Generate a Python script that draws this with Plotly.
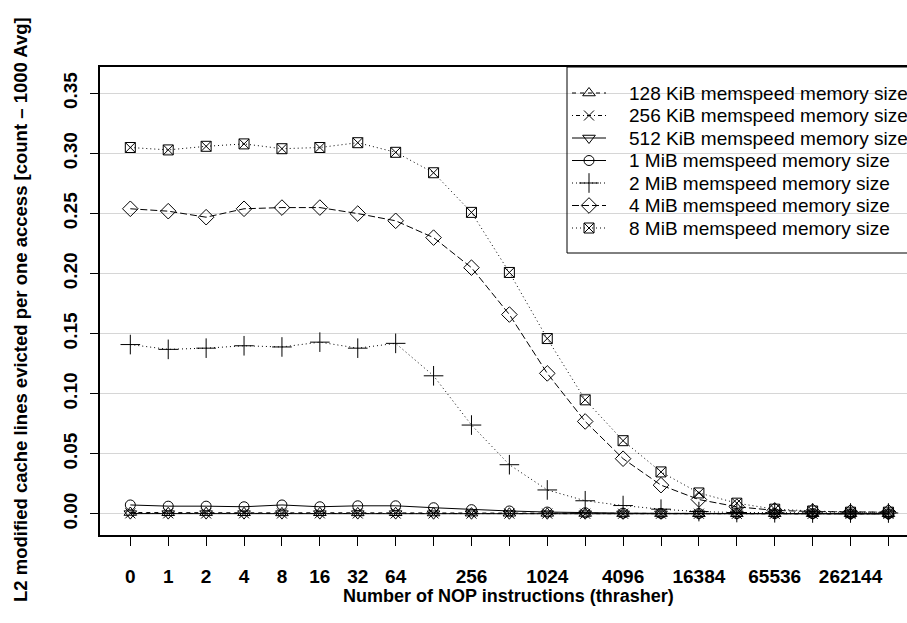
import plotly.graph_objects as go

# NOP instruction counts executed by the thrasher between accesses
nop_counts = [0, 1, 2, 4, 8, 16, 32, 64, 128, 256, 512, 1024, 2048, 4096,
              8192, 16384, 32768, 65536, 131072, 262144, 524288]
# counts that get a printed tick label (the others only get a tick mark)
labelled_counts = [0, 1, 2, 4, 8, 16, 32, 64, 256, 1024, 4096, 16384, 65536, 262144]

series_names = [
    "128 KiB memspeed memory size",
    "256 KiB memspeed memory size",
    "512 KiB memspeed memory size",
    "1 MiB memspeed memory size",
    "2 MiB memspeed memory size",
    "4 MiB memspeed memory size",
    "8 MiB memspeed memory size",
]

# L2 modified cache lines evicted per access, one list per memory size
evict_128k = [0.0012, 0.0010, 0.0011, 0.0010, 0.0009, 0.0010, 0.0009, 0.0010, 0.0008, 0.0007, 0.0006,
              0.0005, 0.0004, 0.0003, 0.0003, 0.0002, 0.0002, 0.0002, 0.0002, 0.0002, 0.0002]
evict_256k = [0.0005, 0.0005, 0.0004, 0.0005, 0.0004, 0.0005, 0.0004, 0.0004, 0.0004, 0.0003, 0.0003,
              0.0003, 0.0002, 0.0002, 0.0002, 0.0002, 0.0001, 0.0001, 0.0001, 0.0001, 0.0001]
evict_512k = [0.0003, 0.0003, 0.0003, 0.0003, 0.0003, 0.0003, 0.0003, 0.0003, 0.0002, 0.0002, 0.0002,
              0.0002, 0.0002, 0.0001, 0.0001, 0.0001, 0.0001, 0.0001, 0.0001, 0.0001, 0.0001]
evict_1m = [0.0075, 0.0065, 0.0065, 0.0060, 0.0075, 0.0060, 0.0068, 0.0068, 0.0052, 0.0036, 0.0025,
            0.0016, 0.0010, 0.0007, 0.0005, 0.0004, 0.0003, 0.0003, 0.0003, 0.0002, 0.0002]
evict_2m = [0.141, 0.137, 0.138, 0.140, 0.139, 0.143, 0.138, 0.142, 0.115, 0.074, 0.041,
            0.020, 0.011, 0.007, 0.004, 0.002, 0.0012, 0.0010, 0.0008, 0.0008, 0.0008]
evict_4m = [0.254, 0.252, 0.247, 0.254, 0.255, 0.255, 0.250, 0.244, 0.230, 0.205, 0.166,
            0.117, 0.077, 0.046, 0.024, 0.012, 0.006, 0.003, 0.002, 0.0015, 0.0015]
evict_8m = [0.305, 0.303, 0.306, 0.308, 0.304, 0.305, 0.309, 0.301, 0.284, 0.251, 0.201,
            0.146, 0.095, 0.061, 0.035, 0.0175, 0.009, 0.004, 0.0025, 0.0015, 0.0015]

y_ticks = [0.00, 0.05, 0.10, 0.15, 0.20, 0.25, 0.30, 0.35]

series_values = [evict_128k, evict_256k, evict_512k, evict_1m, evict_2m, evict_4m, evict_8m]
series_symbols = ["triangle-up-open", "x-thin-open", "triangle-down-open", "circle-open",
                  "cross-thin-open", "diamond-open", "square-x-open"]
series_sizes = [11, 10, 11, 10, 14, 12, 10]
series_dash = ["4px,4px", "1px,3px,4px,3px", "solid", "solid", "1px,3px", "7px,3px", "1px,3px"]

FONT = "Liberation Sans, Arial, Helvetica, sans-serif"
W, H = 907, 623
L, R, T, B = 100, 907, 67, 535  # plot region in pixels


def paper_x(px):
    return (px - L) / (R - L)


def paper_y(py):
    return (B - py) / (B - T)


x_pos = list(range(len(nop_counts)))
tick_text = [str(c) if c in labelled_counts else "" for c in nop_counts]

fig = go.Figure()

for name, vals, sym, size, dash in zip(series_names, series_values, series_symbols,
                                       series_sizes, series_dash):
    fig.add_trace(go.Scatter(
        x=x_pos, y=vals, name=name, mode="lines+markers",
        line=dict(color="black", width=1, dash=dash),
        marker=dict(symbol=sym, size=size, color="black",
                    line=dict(color="black", width=1)),
        showlegend=False, cliponaxis=False,
    ))

# legend: keys drawn on a pixel-space overlay, labels as annotations
row0, row_step = 93, 22.5
key_x0, key_xm, key_x1, text_x = 572, 589, 606, 627
for i, (name, sym, size, dash) in enumerate(zip(series_names, series_symbols,
                                                series_sizes, series_dash)):
    ry = row0 + i * row_step
    fig.add_trace(go.Scatter(
        x=[key_x0, key_x1], y=[ry, ry], mode="lines", xaxis="x2", yaxis="y2",
        line=dict(color="black", width=1, dash=dash), showlegend=False, hoverinfo="skip"))
    fig.add_trace(go.Scatter(
        x=[key_xm], y=[ry], mode="markers", xaxis="x2", yaxis="y2",
        marker=dict(symbol=sym, size=size, color="black", line=dict(color="black", width=1)),
        showlegend=False, hoverinfo="skip"))
    fig.add_annotation(
        x=paper_x(text_x), y=paper_y(ry), xref="paper", yref="paper", text=name,
        showarrow=False, xanchor="left", yanchor="middle",
        font=dict(family=FONT, size=19, color="black"))

fig.add_shape(type="rect", xref="paper", yref="paper",
              x0=paper_x(567), x1=paper_x(940), y0=paper_y(T), y1=paper_y(253),
              line=dict(color="black", width=1), fillcolor="rgba(0,0,0,0)", layer="above")

# axis titles
fig.add_annotation(
    x=paper_x((L + 917) / 2), y=paper_y(596), xref="paper", yref="paper",
    text="Number of NOP instructions (thrasher)",
    showarrow=False, xanchor="center", yanchor="middle",
    font=dict(family=FONT, size=18, color="black", weight="bold"))
fig.add_annotation(
    x=paper_x(20), y=paper_y(310), xref="paper", yref="paper",
    text="L2 modified cache lines evicted per one access [count \u2013 1000 Avg]",
    textangle=-90, showarrow=False, xanchor="center", yanchor="middle",
    font=dict(family=FONT, size=18.5, color="black", weight="bold"))

fig.update_layout(
    width=W, height=H, autosize=False,
    margin=dict(l=L, r=W - R, t=T, b=H - B, pad=0),
    plot_bgcolor="white", paper_bgcolor="white",
    font=dict(family=FONT, size=19, color="black"),
    xaxis=dict(
        range=[-0.8, 20.49], tickmode="array", tickvals=x_pos, ticktext=tick_text,
        ticks="outside", ticklen=9, tickwidth=1, tickcolor="black",
        showline=True, linecolor="black", linewidth=1.5, mirror=True,
        showgrid=False, zeroline=False, ticklabelstandoff=14,
        tickfont=dict(family=FONT, size=19, color="black", weight="bold"),
    ),
    yaxis=dict(
        range=[-0.0175, 0.372], tickmode="array", tickvals=y_ticks,
        ticktext=[f"{v:.2f}" for v in y_ticks], tickangle=-90,
        ticks="outside", ticklen=8, tickwidth=1, tickcolor="black",
        showline=True, linecolor="black", linewidth=1.5,
        showgrid=True, gridcolor="#d6d6d6", gridwidth=1, zeroline=False,
        ticklabelstandoff=6,
        tickfont=dict(family=FONT, size=19, color="black", weight="bold"),
    ),
    xaxis2=dict(overlaying="x", anchor="y2", range=[L, R], visible=False, fixedrange=True),
    yaxis2=dict(overlaying="y", anchor="x2", range=[B, T], visible=False, fixedrange=True),
)

fig.write_html("out.html", config={"displayModeBar": False})
